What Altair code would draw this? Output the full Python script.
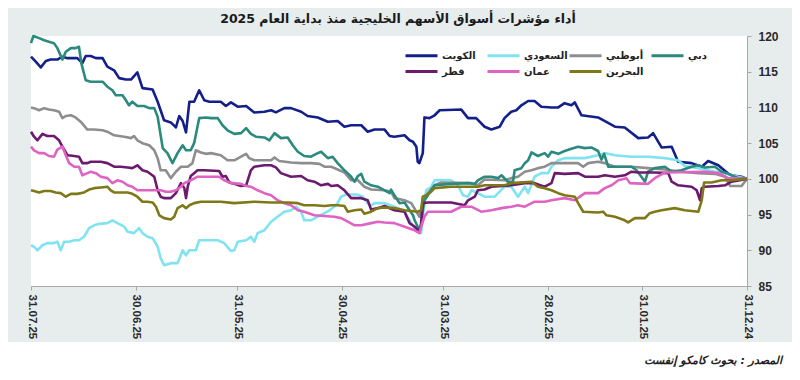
import altair as alt
import pandas as pd

TITLE = "أداء مؤشرات أسواق الأسهم الخليجية منذ بداية العام 2025"
SOURCE = "المصدر : بحوث كامكو إنفست"
SERIES = ["الكويت", "السعودي", "أبوظبي", "دبي", "قطر", "عمان", "البحرين"]
COLORS = ["#14208a", "#7fe3f0", "#8e8e8e", "#2a8a7e", "#6b1a6e", "#e062c2", "#7e7818"]
TICK_DATES = ["2024-12-31", "2025-01-31", "2025-02-28", "2025-03-31",
              "2025-04-30", "2025-05-31", "2025-06-30", "2025-07-31"]
Y_TICKS = [85, 90, 95, 100, 105, 110, 115, 120]

# (days since 31.12.24, index level)
KUWAIT = [(0,100.0),(1.6,100.3),(4.6,100.5),(5.5,100.7),(8.5,101.9),(11.5,102.5),(13.4,101.7),(16.4,102.2),(20.4,102.4),(22.3,104.5),(25.3,104.4),(27.8,106.4),(29.3,105.8),(32.2,105.7),(36.2,107.2),(39.1,107.3),(44.1,108.6),(49.0,108.9),(51.0,110.7),(52.0,110.3),(54.0,110.6),(55.9,110.0),(57.9,110.0),(60.9,110.1),(62.9,110.9),(64.8,110.9),(66.8,110.3),(68.3,109.6),(69.8,109.4),(71.8,108.5),(73.2,107.3),(75.7,106.9),(77.7,107.3),(80.2,108.5),(82.6,108.5),(84.6,109.7),(91.0,109.6),(92.5,108.9),(94.0,108.5),(95.5,108.6),(96.0,103.6),(97.0,102.2),(97.5,102.4),(97.9,104.5),(98.9,105.2),(99.9,105.4),(101.4,106.1),(104.4,105.9),(105.8,106.0),(107.3,106.9),(110.3,106.9),(112.3,106.6),(114.2,107.5),(117.2,107.5),(119.2,107.3),(121.2,108.1),(124.1,108.0),(127.1,108.6),(130.1,108.8),(132.0,109.4),(135.0,109.9),(137.0,109.9),(139.5,109.3),(140.9,109.6),(142.9,109.4),(145.9,109.3),(148.3,110.2),(150.8,110.1),(152.8,110.7),(154.3,110.2),(155.8,110.8),(159.2,110.8),(160.7,111.0),(162.2,112.4),(163.7,110.8),(165.1,110.8),(166.1,106.5),(167.1,108.1),(168.1,108.8),(169.1,107.2),(170.6,107.9),(172.6,108.2),(174.5,110.8),(176.0,112.5),(179.0,112.7),(180.5,114.9),(182.4,113.9),(183.9,113.9),(185.9,114.1),(187.4,115.2),(189.4,115.7),(190.8,116.9),(192.8,116.9),(194.3,117.2),(195.8,117.2),(196.8,116.2),(198.3,116.9),(201.2,116.9),(202.7,117.1),(204.2,116.7),(206.2,116.7),(207.6,116.5),(209.1,115.6),(210.6,116.4),(212,117.1)]

SAUDI = [(0,100.0),(2.6,100.3),(4.6,100.5),(6.5,100.8),(9.5,101.0),(14.4,101.5),(18.4,101.8),(20.4,102.6),(24.3,102.9),(29.3,103.1),(34.2,103.1),(39.1,103.3),(42.1,103.6),(44.1,103.3),(48.0,102.9),(54.0,102.9),(55.9,102.6),(57.9,101.7),(58.9,100.8),(60.9,100.8),(62.9,100.3),(64.8,98.0),(65.8,98.9),(67.8,97.5),(69.8,98.9),(71.8,98.9),(74.7,97.5),(77.7,97.5),(79.7,98.0),(81.6,98.4),(82.6,97.5),(84.1,97.7),(85.6,99.1),(87.6,99.8),(92.5,99.8),(93.5,98.9),(95.0,98.4),(96.0,94.7),(96.5,92.4),(97.9,92.8),(99.4,93.8),(101.4,95.4),(104.4,96.1),(107.3,96.6),(110.3,96.6),(111.3,96.3),(112.3,96.6),(113.8,97.5),(115.2,97.8),(118.7,97.8),(120.2,97.5),(121.2,96.6),(122.2,96.1),(123.6,95.6),(125.1,95.2),(127.1,94.7),(129.1,94.2),(131.1,94.2),(132.0,95.4),(133.5,96.1),(135.0,95.6),(137.0,95.4),(139.0,94.7),(140.9,94.0),(142.9,92.8),(144.9,92.4),(145.9,91.2),(146.9,91.9),(148.3,91.4),(150.8,91.2),(151.8,90.0),(152.8,89.9),(154.8,91.0),(156.7,91.4),(160.2,91.4),(162.2,91.4),(163.2,90.0),(165.1,90.0),(166.1,89.3),(167.1,90.0),(168.6,88.2),(170.6,88.2),(172.6,87.9),(173.6,88.9),(174.5,90.5),(176.0,91.7),(177.5,91.9),(179.0,92.4),(180.0,93.1),(181.5,92.4),(183.4,92.6),(184.4,93.3),(186.4,93.8),(187.9,94.2),(189.4,93.8),(191.8,93.7),(193.3,93.5),(194.8,93.1),(196.3,91.9),(197.8,91.4),(199.2,91.4),(200.7,91.2),(202.2,91.2),(203.2,90.0),(204.2,91.2),(205.2,91.0),(207.2,91.0),(208.6,90.7),(210.1,90.0),(211.1,90.5),(212,90.7)]

ABUDHABI = [(0,100.0),(1.6,99.0),(5.0,99.0),(6.5,100.3),(9.5,100.7),(14.4,100.8),(19.4,101.0),(24.3,101.3),(29.3,101.5),(34.2,101.7),(39.1,101.7),(42.1,102.2),(44.1,102.4),(47.0,102.2),(48.5,101.7),(50.0,102.2),(54.0,102.2),(57.9,102.2),(59.9,101.7),(61.9,101.5),(63.8,101.2),(65.8,101.0),(67.8,100.3),(69.8,100.1),(71.8,99.8),(77.7,99.9),(79.7,99.1),(81.6,99.4),(90.5,99.5),(92.5,99.1),(94.5,98.0),(96.0,96.6),(97.0,94.7),(97.9,95.4),(99.4,96.6),(101.4,97.0),(104.4,97.3),(105.4,98.2),(107.3,98.4),(111.3,98.5),(113.3,98.9),(115.2,99.8),(117.2,99.8),(119.2,100.9),(121.2,101.3),(123.1,101.7),(125.1,101.7),(126.6,102.1),(129.1,102.2),(132.0,102.2),(135.0,102.3),(138.5,102.5),(139.9,103.0),(140.9,102.6),(145.9,102.6),(147.4,102.9),(148.3,103.5),(149.8,103.1),(151.8,102.6),(153.8,102.6),(155.8,103.3),(158.7,103.6),(160.2,103.5),(161.7,103.7),(163.2,104.0),(164.2,102.2),(165.6,101.7),(167.6,101.7),(169.1,101.0),(170.6,100.1),(172.1,101.2),(173.6,101.2),(174.5,102.9),(175.5,104.0),(177.0,104.7),(179.0,105.0),(180.5,105.4),(181.5,106.0),(182.4,105.7),(184.4,105.9),(187.4,106.1),(189.4,106.6),(190.8,106.8),(193.3,106.9),(195.3,106.9),(197.3,108.0),(198.8,108.6),(200.2,108.9),(201.7,108.8),(202.7,108.5),(203.7,109.4),(205.2,109.6),(206.7,109.7),(208.1,109.9),(209.6,109.6),(211.1,109.9),(212,110.0)]

DUBAI = [(0,100.0),(2.6,100.1),(5.5,100.7),(7.5,101.0),(9.5,101.7),(12.5,101.6),(14.4,101.9),(16.4,101.7),(19.4,101.2),(22.3,101.0),(24.3,101.7),(27.3,101.5),(29.3,101.0),(30.2,99.6),(32.7,101.2),(34.2,101.7),(41.1,101.7),(42.3,103.5),(43.1,102.7),(44.1,103.9),(46.1,104.4),(48.0,104.3),(50.0,104.5),(52.0,104.2),(54.0,103.9),(55.9,103.5),(57.9,103.8),(58.9,103.1),(59.9,103.6),(61.9,103.2),(63.8,103.7),(64.8,102.6),(65.8,102.2),(66.8,101.5),(68.8,101.2),(69.3,99.6),(70.8,99.6),(72.7,100.5),(73.7,100.1),(75.7,100.3),(77.7,100.3),(79.7,99.8),(80.6,99.3),(82.6,99.4),(87.6,99.3),(92.5,99.1),(93.5,98.4),(94.5,97.7),(95.5,97.0),(96.0,95.6),(96.5,93.3),(97.0,92.8),(97.5,93.3),(98.4,94.2),(98.9,94.9),(99.9,95.6),(101.4,96.7),(102.9,96.6),(104.4,97.7),(105.4,98.5),(105.8,98.0),(107.3,98.4),(109.3,98.9),(111.3,99.1),(113.3,99.6),(114.2,100.7),(115.2,100.4),(116.2,99.6),(117.2,100.3),(119.2,101.2),(121.2,102.2),(122.7,103.1),(124.1,102.9),(126.1,103.8),(127.1,103.6),(129.1,103.1),(131.1,103.2),(133.0,103.8),(134.5,104.7),(136.0,105.8),(138.0,105.7),(139.9,106.4),(141.4,105.4),(142.9,105.8),(145.4,105.9),(146.9,106.3),(148.3,107.1),(149.8,106.4),(151.8,106.3),(153.8,106.8),(155.3,107.5),(156.7,108.5),(158.7,108.5),(160.2,108.6),(162.2,108.5),(163.7,105.0),(164.7,104.0),(166.1,104.0),(167.1,104.7),(168.6,103.6),(170.1,102.2),(171.6,103.6),(173.0,104.3),(174.5,108.7),(175.5,109.9),(177.0,109.9),(178.5,110.2),(180.5,110.2),(182.0,110.8),(183.0,110.3),(183.9,111.0),(184.9,111.7),(186.9,111.7),(187.9,112.4),(189.4,112.9),(190.8,113.6),(194.3,113.6),(195.8,113.8),(197.1,116.2),(197.8,118.5),(198.8,118.3),(200.2,118.3),(201.7,117.8),(202.7,116.7),(204.2,118.3),(205.2,119.0),(206.7,119.2),(208.1,119.4),(209.6,119.7),(211.3,120.0),(212,119.0)]

QATAR = [(0,100.0),(4.6,99.6),(6.5,99.1),(8.5,99.0),(12.5,98.9),(13.4,98.7),(13.9,97.0),(14.9,98.4),(16.4,98.9),(20.4,99.1),(22.3,99.6),(23.3,100.8),(27.3,100.9),(32.2,100.9),(34.2,101.0),(36.2,100.5),(39.1,100.3),(42.1,100.5),(44.1,100.3),(48.0,100.3),(50.0,100.8),(54.0,100.7),(56.9,100.8),(57.9,99.4),(59.9,98.9),(62.9,99.4),(65.8,99.4),(69.8,99.1),(75.7,98.9),(77.7,98.5),(79.7,98.4),(80.6,97.5),(82.6,97.0),(83.6,96.3),(87.6,96.7),(94.5,96.7),(96.0,96.6),(96.5,93.8),(97.0,92.6),(98.4,93.3),(99.9,93.8),(101.4,95.4),(104.4,95.6),(107.3,96.2),(109.3,95.9),(111.3,95.7),(112.3,97.0),(114.2,97.3),(117.2,97.3),(119.2,98.4),(121.2,99.1),(123.1,99.0),(124.1,99.3),(126.1,99.1),(128.1,99.6),(130.1,99.8),(132.0,100.4),(135.0,100.3),(138.0,100.8),(139.5,101.6),(140.9,101.9),(142.9,101.9),(145.9,101.7),(146.9,101.2),(148.3,99.1),(149.8,99.0),(151.8,99.3),(153.3,99.5),(154.3,100.4),(155.3,100.3),(156.3,101.1),(160.7,101.2),(162.7,101.2),(163.7,100.8),(164.7,100.4),(165.6,98.9),(166.1,97.3),(166.6,98.7),(167.6,99.4),(169.1,98.0),(170.6,97.3),(172.6,97.3),(173.6,97.5),(174.5,98.4),(175.5,100.3),(177.5,101.0),(179.0,101.2),(180.5,101.9),(182.0,101.5),(183.4,101.6),(185.4,101.7),(187.4,101.7),(189.4,102.2),(191.3,102.4),(194.3,102.4),(195.3,102.2),(196.8,102.2),(197.8,103.1),(199.2,103.2),(201.2,103.3),(202.7,104.5),(203.7,105.4),(205.2,106.0),(207.2,106.0),(208.6,106.3),(210.1,105.4),(211.1,105.9),(212,106.6)]

OMAN = [(0,100.0),(5.5,100.1),(8.5,100.8),(12.5,101.0),(24.3,100.9),(27.3,100.1),(29.3,99.3),(34.7,99.4),(35.7,100.1),(38.1,99.8),(40.1,99.1),(42.1,98.7),(44.1,98.0),(48.0,98.0),(51.0,97.0),(54.0,97.3),(57.9,97.0),(59.9,96.8),(62.9,96.8),(65.8,96.1),(67.8,96.3),(69.8,96.1),(72.7,95.9),(75.7,95.6),(78.7,95.4),(81.6,96.1),(84.6,96.1),(87.6,95.4),(94.5,95.4),(95.5,94.7),(96.5,93.3),(97.0,92.4),(98.4,92.8),(101.4,93.3),(104.4,93.8),(107.3,93.9),(109.3,94.0),(111.3,93.8),(114.2,93.5),(116.2,93.5),(118.2,94.0),(120.2,94.5),(122.2,94.7),(125.1,94.8),(128.1,94.9),(131.1,95.4),(133.0,95.6),(135.0,96.3),(137.0,96.6),(139.0,97.0),(140.9,97.7),(142.9,98.0),(144.9,98.4),(146.9,98.9),(148.3,99.0),(149.8,99.3),(152.8,99.4),(154.8,99.8),(156.3,100.3),(160.7,100.3),(162.7,100.3),(164.7,99.8),(166.6,99.4),(167.6,98.9),(169.1,98.4),(170.6,98.2),(172.1,98.2),(173.6,98.4),(175.0,98.4),(180.5,98.4),(182.0,98.9),(183.4,99.1),(184.9,99.6),(186.4,99.8),(187.9,99.4),(189.4,100.1),(191.3,100.3),(192.8,100.8),(194.3,101.0),(195.3,100.8),(196.8,100.5),(197.8,101.7),(199.2,101.7),(200.7,102.2),(201.7,103.3),(202.7,104.5),(204.2,104.1),(205.2,103.1),(206.7,103.2),(208.1,103.6),(209.6,103.6),(211.1,104.0),(212,104.5)]

BAHRAIN = [(0,100.0),(4.6,99.8),(7.5,99.8),(10.5,99.5),(12.7,99.5),(13.4,97.0),(14.4,95.4),(18.4,95.6),(21.4,95.9),(25.3,95.6),(27.3,95.4),(28.8,95.2),(30.2,94.5),(33.2,94.5),(35.2,93.9),(36.2,94.2),(39.1,94.7),(41.6,94.9),(42.6,95.4),(44.1,95.3),(48.5,95.4),(50.0,96.6),(51.0,97.5),(54.0,97.7),(55.9,98.0),(57.9,98.4),(59.9,98.7),(61.9,98.9),(63.8,99.6),(69.8,99.4),(71.8,99.1),(77.7,99.1),(79.7,98.9),(87.6,98.9),(92.5,98.7),(93.5,98.2),(95.0,97.7),(96.0,97.5),(96.5,95.6),(97.5,95.4),(101.4,95.6),(104.4,95.9),(107.3,96.0),(109.3,95.9),(111.3,95.4),(113.3,95.1),(114.2,95.7),(116.2,95.6),(118.2,95.4),(119.2,96.2),(121.2,96.3),(123.1,96.3),(125.1,96.2),(128.1,96.3),(131.1,96.3),(133.0,96.6),(136.0,96.7),(140.9,96.7),(145.9,96.8),(151.8,96.6),(155.8,96.8),(161.7,96.8),(163.7,96.6),(165.1,96.3),(166.1,95.9),(167.1,96.3),(168.6,95.9),(169.6,94.7),(170.6,94.3),(172.6,94.5),(174.0,94.9),(175.0,96.1),(176.0,96.7),(177.5,96.8),(179.0,96.8),(180.5,97.5),(182.0,97.9),(183.4,98.1),(187.4,98.1),(188.4,98.4),(189.4,98.9),(191.3,98.8),(193.3,98.7),(194.8,98.5),(196.3,98.1),(198.3,97.9),(200.2,97.9),(201.7,97.5),(203.2,98.0),(204.7,98.1),(206.2,98.3),(208.1,98.3),(209.6,98.1),(211.1,98.3),(212,98.4)]

SERIES_DATA = [KUWAIT, SAUDI, ABUDHABI, DUBAI, QATAR, OMAN, BAHRAIN]

DAY_MS = 86400000
base_ms = int(pd.Timestamp(TICK_DATES[0], tz="UTC").value // 10**6)
tick_ms = [int(pd.Timestamp(d, tz="UTC").value // 10**6) for d in TICK_DATES]

rows = []
for name, pts in zip(SERIES, SERIES_DATA):
    for d, v in pts:
        rows.append({"t": base_ms + d * DAY_MS, "v": v, "s": name})
df = pd.DataFrame(rows)

W, H = 716, 250
AX_GRAY = "#a8a8a8"

lines = alt.Chart(df).mark_line(strokeWidth=2.6, strokeJoin="round").encode(
    x=alt.X("t:T",
            scale=alt.Scale(type="utc", domain=[tick_ms[0], tick_ms[-1]], reverse=True, nice=False),
            axis=alt.Axis(values=tick_ms, labelExpr="utcFormat(datum.value, '%d.%m.%y')",
                          labelAngle=90, labelFont="Liberation Sans", labelFontSize=11.5,
                          labelFontWeight="bold", labelColor="#2a2a2a", tickSize=4,
                          tickColor=AX_GRAY, domainColor=AX_GRAY, labelPadding=4,
                          grid=False, title=None, labelOverlap=False)),
    y=alt.Y("v:Q",
            scale=alt.Scale(domain=[85, 120], nice=False, zero=False),
            axis=alt.Axis(orient="right", values=Y_TICKS, labelFont="Liberation Sans",
                          labelFontSize=12, labelFontWeight="bold", labelColor="#2a2a2a",
                          tickSize=4, tickColor=AX_GRAY, domainColor=AX_GRAY,
                          labelPadding=7, grid=False, title=None)),
    color=alt.Color("s:N", scale=alt.Scale(domain=SERIES, range=COLORS),
                    legend=alt.Legend(orient="none", legendX=381, legendY=10,
                                      direction="horizontal", columns=4,
                                      symbolType="M-2,0H2", symbolStrokeWidth=3,
                                      symbolSize=256, labelFont="DejaVu Sans",
                                      labelFontSize=10, labelFontWeight="bold",
                                      labelColor="#222222", gridAlign="all",
                                      columnPadding=-5, rowPadding=0, labelOffset=11,
                                      title=None, padding=0)),
    order=alt.Order("t:T"),
)

bottom_band = alt.Chart(pd.DataFrame({"k": [0]})).mark_rect(color="white").encode(
    x=alt.value(-23), x2=alt.value(W + 45), y=alt.value(306), y2=alt.value(H + 94)
)

source = alt.Chart(pd.DataFrame({"k": [0]})).mark_text(
    align="right", baseline="middle", font="DejaVu Sans", fontSize=11,
    fontWeight="bold", fontStyle="italic", color="#222222"
).encode(x=alt.value(751), y=alt.value(325), text=alt.value(SOURCE))

chart = alt.layer(bottom_band, lines, source).properties(
    width=W, height=H,
    title=alt.TitleParams(text=TITLE, font="DejaVu Sans", fontSize=12.5, fontWeight="bold",
                          color="#1a1a1a", anchor="middle", dx=9, offset=5),
    autosize=alt.AutoSizeParams(type="none"),
    padding={"left": 23, "top": 28, "right": 45, "bottom": 94},
    background="#e7eded",
).configure_view(fill="white", stroke=None)

chart.save("out.html", embed_options={"renderer": "svg", "actions": False})
